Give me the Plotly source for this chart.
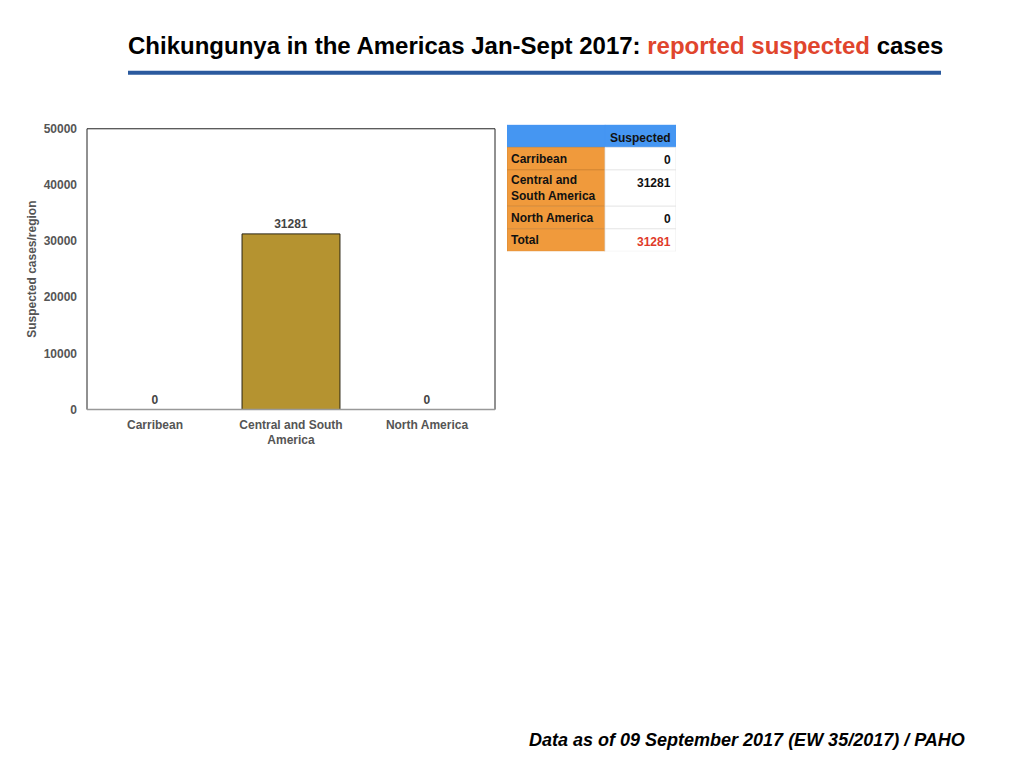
import numpy as np
import plotly.graph_objects as go

# ---- chart data ----
categories = ["Carribean", "Central and South<br>America", "North America"]
suspected = [0, 31281, 0]
y_ticks = [0, 10000, 20000, 30000, 40000, 50000]

# ---- table data ----
table_header = ["", "Suspected"]
table_regions = ["Carribean", "Central and<br>South America", "North America", "Total"]
table_values = [0, 31281, 0, 31281]
table_value_colors = ["#111111", "#111111", "#111111", "#e03a2a"]

# page geometry (compensates body margin and the capture's vertical scale)
W, H = 1008, 752
OFF = 8
SY, AY = 0.982, 6.3
def px_x(v):
    return (v - OFF) / W
def px_y(v):
    page = (v - AY) / SY
    return 1 - (page - OFF) / H

FONT = "Liberation Sans, Arial, sans-serif"
GRAY = "#555555"

fig = go.Figure()

fig.add_trace(go.Bar(
    x=categories,
    y=suspected,
    marker=dict(color="#b59330", line=dict(color="#2a2410", width=1)),
    width=0.72,
    text=[str(v) for v in suspected],
    textposition="outside",
    textfont=dict(family=FONT, size=12, color="#444444", weight="bold"),
    cliponaxis=False,
    hoverinfo="x+y",
))

# ---- table drawn as horizontal bars on its own axes ----
row_labels = [table_header[0]] + table_regions
row_values = [table_header[1]] + [str(v) for v in table_values]
row_value_colors = ["#111111"] + table_value_colors
line_counts = np.array([1 + s.count("<br>") for s in row_labels])
row_heights = 14 * line_counts + 9
row_tops = np.cumsum(row_heights) - row_heights
row_centers = row_tops + row_heights / 2
total_h = float(row_heights.sum())
label_w, value_w = 98, 71

fig.add_trace(go.Bar(
    orientation="h",
    xaxis="x2", yaxis="y2",
    y=row_centers, x=[label_w] * len(row_labels), base=0,
    width=row_heights,
    marker=dict(color=["#4596f2"] + ["#f09a3c"] * len(table_regions),
                line=dict(color=["#4596f2"] + ["#c98232"] * len(table_regions), width=0.6)),
    hoverinfo="skip",
))
fig.add_trace(go.Bar(
    orientation="h",
    xaxis="x2", yaxis="y2",
    y=row_centers, x=[value_w] * len(row_values), base=label_w,
    width=row_heights,
    marker=dict(color=["#4596f2"] + ["#ffffff"] * len(table_regions),
                line=dict(color=["#4596f2"] + ["#e4e4e4"] * len(table_regions), width=0.8)),
    hoverinfo="skip",
))

annotations = [
    dict(xref="paper", yref="paper", x=px_x(535), y=px_y(45),
         xanchor="center", yanchor="middle", showarrow=False,
         text="<b>Chikungunya in the Americas Jan-Sept 2017: "
              "<span style='color:#e0452d'>reported suspected</span> cases</b>",
         font=dict(family=FONT, size=24, color="#000000")),
    dict(xref="paper", yref="paper", x=px_x(967), y=px_y(740),
         xanchor="right", yanchor="middle", showarrow=False,
         text="<b><i>Data as of 09 September 2017 (EW 35/2017) / PAHO</i></b>",
         font=dict(family=FONT, size=18, color="#000000")),
]
for lab, val, col, top, cen in zip(row_labels, row_values, row_value_colors,
                                   row_tops, row_centers):
    if lab:
        annotations.append(dict(
            xref="x2", yref="y2", x=2, y=cen, xanchor="left", yanchor="middle",
            align="left", showarrow=False, text="<b>%s</b>" % lab,
            font=dict(family=FONT, size=12, color="#111111")))
    annotations.append(dict(
        xref="x2", yref="y2", x=label_w + value_w - 3, y=top + 4,
        xanchor="right", yanchor="top", align="right", showarrow=False,
        text="<b>%s</b>" % val,
        font=dict(family=FONT, size=12, color=col)))

fig.update_layout(
    width=W, height=H,
    margin=dict(l=0, r=0, t=0, b=0),
    paper_bgcolor="white",
    plot_bgcolor="white",
    showlegend=False,
    font=dict(family=FONT),
    barmode="overlay",
    xaxis=dict(
        domain=[px_x(87), px_x(495)],
        showline=False,
        ticks="",
        ticklabelstandoff=6,
        tickfont=dict(family=FONT, size=12, color=GRAY, weight="bold"),
        fixedrange=True,
    ),
    yaxis=dict(
        domain=[px_y(409), px_y(128)],
        range=[0, 50000],
        tickvals=y_ticks,
        ticktext=[str(t) for t in y_ticks],
        showgrid=False,
        zeroline=False,
        showline=False,
        ticks="",
        ticklabelstandoff=9,
        tickfont=dict(family=FONT, size=12, color=GRAY, weight="bold"),
        title=dict(text="Suspected cases/region",
                   font=dict(family=FONT, size=12, color=GRAY, weight="bold"),
                   standoff=4),
        fixedrange=True,
    ),
    xaxis2=dict(
        domain=[px_x(507), px_x(676)],
        range=[0, label_w + value_w],
        visible=False, fixedrange=True, anchor="y2",
    ),
    yaxis2=dict(
        domain=[px_y(124 + total_h * SY), px_y(124)],
        range=[total_h, 0],
        visible=False, fixedrange=True, anchor="x2",
    ),
    shapes=[
        dict(type="line", xref="paper", yref="paper",
             x0=px_x(87), x1=px_x(87), y0=px_y(409), y1=px_y(128),
             line=dict(color="#222222", width=1)),
        dict(type="line", xref="paper", yref="paper",
             x0=px_x(87), x1=px_x(495), y0=px_y(128), y1=px_y(128),
             line=dict(color="#222222", width=1)),
        dict(type="line", xref="paper", yref="paper",
             x0=px_x(495), x1=px_x(495), y0=px_y(409), y1=px_y(128),
             line=dict(color="#222222", width=1)),
        dict(type="line", xref="paper", yref="paper",
             x0=px_x(87), x1=px_x(495), y0=px_y(409), y1=px_y(409),
             line=dict(color="#999999", width=1.5)),
        dict(type="line", xref="paper", yref="paper",
             x0=px_x(128), x1=px_x(941), y0=px_y(72), y1=px_y(72),
             line=dict(color="#2b5a9e", width=4)),
    ],
    annotations=annotations,
)

fig.write_html("out.html")
